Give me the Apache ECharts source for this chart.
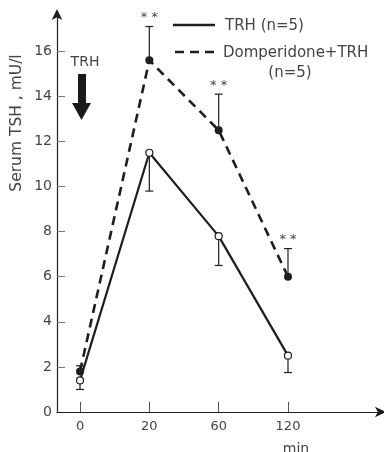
<!DOCTYPE html>
<html>
<head>
<meta charset="utf-8">
<script src="https://cdn.jsdelivr.net/npm/echarts@6/dist/echarts.min.js"></script>
<style>
  html, body { margin: 0; padding: 0; background: #fff; }
  #chart { width: 384px; height: 452px; }
</style>
</head>
<body>
<div id="chart"></div>
<script>
// Sampling times (min), drawn equally spaced
const times = ['0', '20', '60', '120'];
// Serum TSH, mU/l — TRH alone
const trhMean = [1.4, 11.5, 7.8, 2.5];
const trhLow = [1.0, 9.8, 6.5, 1.75];
// Serum TSH, mU/l — Domperidone + TRH
const domMean = [1.8, 15.6, 12.5, 6.0];
const domHigh = [2.05, 17.1, 14.1, 7.25];
// Significance marks for Domperidone + TRH
const domSig = ['', '**', '**', '**'];
const yTicks = [0, 2, 4, 6, 8, 10, 12, 14, 16];

const ink = '#1e1e1e';
const textColor = '#444';
const font = 'DejaVu Sans';

const xs = times.map((_, i) => i);

function errorSeries(mean, bound, marks) {
  return {
    type: 'custom',
    z: 1,
    data: mean.map((m, i) => [i, m, bound[i], marks ? marks[i] : '']),
    renderItem: function (params, api) {
      const p0 = api.coord([api.value(0), api.value(1)]);
      const p1 = api.coord([api.value(0), api.value(2)]);
      const cap = 4;
      const children = [
        { type: 'line', shape: { x1: p0[0], y1: p0[1], x2: p1[0], y2: p1[1] }, style: { stroke: ink, lineWidth: 1.2 } },
        { type: 'line', shape: { x1: p1[0] - cap, y1: p1[1], x2: p1[0] + cap, y2: p1[1] }, style: { stroke: ink, lineWidth: 1.2 } }
      ];
      const mark = api.value(3);
      if (mark) {
        children.push({
          type: 'text',
          style: { text: '* *', x: p1[0], y: p1[1] - 2, align: 'center', verticalAlign: 'bottom', fill: textColor, font: '13px ' + font }
        });
      }
      return { type: 'group', children: children };
    }
  };
}

const chart = echarts.init(document.getElementById('chart'), null, { renderer: 'canvas' });
chart.setOption({
  animation: false,
  backgroundColor: '#fff',
  grid: { left: 57, right: 2, top: 13, bottom: 40, outerBoundsMode: 'none', containLabel: false },
  xAxis: {
    type: 'value',
    min: -0.332,
    max: 4.356,
    splitLine: { show: false },
    axisLine: { lineStyle: { color: ink, width: 1.2 }, symbol: ['none', 'arrow'], symbolSize: [8, 11], symbolOffset: [0, 4] },
    axisTick: { inside: true, length: 10, customValues: xs, lineStyle: { color: '#555', width: 1 } },
    axisLabel: { customValues: xs, formatter: v => times[Math.round(v)], color: textColor, fontFamily: font, fontSize: 13, margin: 8 }
  },
  yAxis: {
    type: 'value',
    min: 0,
    max: 17.7,
    splitLine: { show: false },
    axisLine: { show: true, onZero: false, lineStyle: { color: ink, width: 1.2 }, symbol: ['none', 'arrow'], symbolSize: [8, 11], symbolOffset: [0, 4] },
    axisTick: { show: true, inside: true, length: 8, customValues: yTicks.slice(1), lineStyle: { color: '#777', width: 1 } },
    axisLabel: { customValues: yTicks, color: textColor, fontFamily: font, fontSize: 14, margin: 5 }
  },
  series: [
    errorSeries(trhMean, trhLow, null),
    errorSeries(domMean, domHigh, domSig),
    {
      name: 'Domperidone+TRH (n=5)',
      type: 'line',
      z: 3,
      data: domMean.map((v, i) => [i, v]),
      symbol: 'circle',
      symbolSize: 8,
      itemStyle: { color: ink },
      lineStyle: { color: ink, width: 2.6, type: [9, 6] }
    },
    {
      name: 'TRH (n=5)',
      type: 'line',
      z: 4,
      data: trhMean.map((v, i) => [i, v]),
      symbol: 'circle',
      symbolSize: 7,
      itemStyle: { color: '#fff', borderColor: ink, borderWidth: 1.2 },
      lineStyle: { color: ink, width: 2.2 }
    }
  ],
  graphic: [
    // y axis title
    { type: 'text', x: 17, y: 123, rotation: Math.PI / 2, style: { text: 'Serum TSH , mU/l', fill: textColor, font: '15.5px ' + font, align: 'center', verticalAlign: 'middle' } },
    // key
    { type: 'line', shape: { x1: 173, y1: 25, x2: 215, y2: 25 }, style: { stroke: ink, lineWidth: 2.6 } },
    { type: 'text', x: 225, y: 26, style: { text: 'TRH (n=5)', fill: textColor, font: '15px ' + font, verticalAlign: 'middle' } },
    { type: 'line', shape: { x1: 175, y1: 52, x2: 215, y2: 52 }, style: { stroke: ink, lineWidth: 2.6, lineDash: [9, 6] } },
    { type: 'text', x: 223, y: 53, style: { text: 'Domperidone+TRH', fill: textColor, font: '15px ' + font, verticalAlign: 'middle' } },
    { type: 'text', x: 290, y: 73, style: { text: '(n=5)', fill: textColor, font: '15px ' + font, align: 'center', verticalAlign: 'middle' } },
    // TRH injection arrow
    { type: 'text', x: 85, y: 62, style: { text: 'TRH', fill: textColor, font: '14px ' + font, align: 'center', verticalAlign: 'middle' } },
    { type: 'rect', shape: { x: 78, y: 74, width: 8, height: 30 }, style: { fill: '#1a1a1a' } },
    { type: 'polygon', shape: { points: [[72, 103], [91, 103], [81.5, 120]] }, style: { fill: '#1a1a1a' } },
    // time unit under the x axis
    { type: 'text', x: 296, y: 449, style: { text: 'min', fill: textColor, font: '14px ' + font, align: 'center', verticalAlign: 'middle' } }
  ]
});
</script>
</body>
</html>
